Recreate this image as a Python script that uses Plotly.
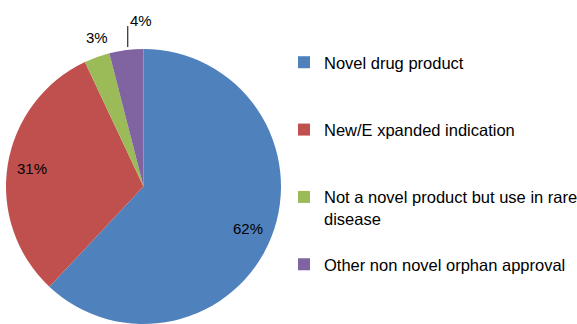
import math
import plotly.graph_objects as go

# Orphan approvals by category
categories = [
    "Novel drug product",
    "New/E xpanded indication",
    "Not a novel product but use in rare disease",
    "Other non novel orphan approval",
]
legend_labels = [
    "Novel drug product",
    "New/E xpanded indication",
    "Not a novel product but use in rare<br>disease",
    "Other non novel orphan approval",
]
shares = [62, 31, 3, 4]
colors = ["#4F81BD", "#C0504D", "#9BBB59", "#8064A2"]

W, H = 577, 324
FONT = "Liberation Sans"

# pie geometry in pixels
cx, cy, R = 143.5, 186.5, 137.5


def px_to_paper(x, y):
    return x / W, 1 - y / H


def slice_point(i, r):
    total = sum(shares)
    start = sum(shares[:i]) / total
    mid = (start + shares[i] / total / 2) * 2 * math.pi
    return cx + r * math.sin(mid), cy - r * math.cos(mid)


# pad legend entries so rows are spread down the right side
pad = "<br> <br> "
legend_text = [
    legend_labels[0] + pad,
    legend_labels[1] + pad,
    legend_labels[2] + "<br> ",
    legend_labels[3],
]

fig = go.Figure(
    go.Pie(
        labels=legend_text,
        values=shares,
        sort=False,
        direction="clockwise",
        rotation=0,
        marker=dict(colors=colors, line=dict(width=0)),
        textinfo="none",
        hoverinfo="label+percent",
        domain=dict(
            x=[(cx - R) / W, (cx + R) / W],
            y=[max(0, (H - cy - R) / H), (H - cy + R) / H],
        ),
    )
)

annotations = []
shapes = []
for i, v in enumerate(shares):
    text = f"{v}%"
    if v >= 10:
        x, y = slice_point(i, 0.82 * R)
        xp, yp = px_to_paper(x, y)
        annotations.append(dict(x=xp, y=yp, text=text, showarrow=False,
                                xanchor="center", yanchor="middle"))
    elif i == 2:
        x, y = slice_point(i, 1.12 * R)
        xp, yp = px_to_paper(x, y)
        annotations.append(dict(x=xp, y=yp, text=text, showarrow=False,
                                xanchor="center", yanchor="middle",
                                xshift=6, yshift=4))
    else:
        # leader line straight up from the slice edge
        x, y = slice_point(i, R)
        x0, y0 = px_to_paper(x + 1.5, y - 3)
        x1, y1 = px_to_paper(x + 1.5, y - 24)
        shapes.append(dict(type="line", xref="paper", yref="paper",
                           x0=x0, y0=y0, x1=x1, y1=y1,
                           line=dict(color="#000000", width=1)))
        annotations.append(dict(x=x1, y=y1, text=text, showarrow=False,
                                xanchor="left", yanchor="middle", yshift=6))

fig.update_layout(
    width=W,
    height=H,
    margin=dict(l=0, r=0, t=0, b=0, autoexpand=False),
    paper_bgcolor="white",
    plot_bgcolor="white",
    font=dict(family=FONT, size=15, color="#000000"),
    annotations=annotations,
    shapes=shapes,
    showlegend=True,
    legend=dict(
        x=284 / W,
        xanchor="left",
        y=1 - 45 / H,
        yanchor="top",
        valign="top",
        itemwidth=30,
        font=dict(family=FONT, size=16.5, color="#000000"),
        bgcolor="rgba(0,0,0,0)",
    ),
)

fig.write_html("out.html")
